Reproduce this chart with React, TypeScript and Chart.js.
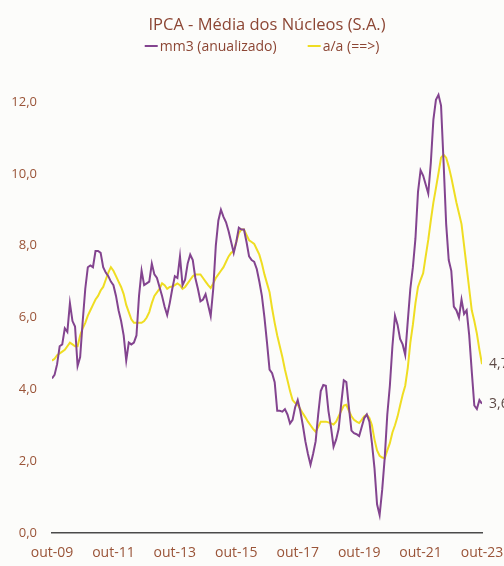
import React, { useEffect, useRef } from 'react';
import { Chart, registerables } from 'chart.js';

Chart.register(...registerables);

const TITLE = 'IPCA - Média dos Núcleos (S.A.)';
const SERIES_NAMES = ['mm3 (anualizado)', 'a/a (==>)'];
const SERIES_COLORS = ['#83448f', '#efdd22'];
const TICK_LABELS = ['out-09', 'out-11', 'out-13', 'out-15', 'out-17', 'out-19', 'out-21', 'out-23'];
const MONTHS_PER_TICK = 24;

// mm3 anualizado, monthly from out-09 to out-23
const MM3 = [
  4.3, 4.4, 4.7, 5.2, 5.25, 5.7, 5.6, 6.4, 5.9, 5.75,
  4.65, 4.9, 5.9, 6.8, 7.4, 7.45, 7.4, 7.85, 7.85, 7.8,
  7.4, 7.25, 7.15, 7.0, 6.9, 6.6, 6.2, 5.9, 5.5, 4.8,
  5.3, 5.25, 5.3, 5.5, 6.6, 7.3, 6.9, 6.95, 7.0, 7.5,
  7.2, 7.1, 6.85, 6.6, 6.3, 6.07, 6.4, 6.8, 7.15, 7.1,
  7.7, 6.9, 7.05, 7.5, 7.75, 7.6, 7.1, 6.8, 6.45, 6.5,
  6.65, 6.35, 6.04, 6.8, 8.0, 8.7, 9.0, 8.8, 8.65, 8.4,
  8.1, 7.8, 8.1, 8.5, 8.45, 8.45, 8.1, 7.7, 7.6, 7.55,
  7.35, 7.0, 6.6, 6.0, 5.3, 4.55, 4.45, 4.2, 3.4, 3.4,
  3.38, 3.45, 3.3, 3.05, 3.15, 3.5, 3.7, 3.4, 3.0, 2.55,
  2.2, 1.9, 2.2, 2.55, 3.3, 3.95, 4.12, 4.1, 3.4, 2.95,
  2.4, 2.6, 2.9, 3.6, 4.25, 4.2, 3.5, 2.85, 2.78, 2.75,
  2.7, 2.95, 3.2, 3.3, 3.1, 2.5, 1.8, 0.8, 0.5, 1.2,
  2.1, 3.3, 4.1, 5.2, 6.05, 5.8, 5.4, 5.25, 4.96, 5.9,
  6.8, 7.4, 8.2, 9.5, 10.1, 9.95, 9.7, 9.45, 10.3, 11.5,
  12.06, 12.2, 11.9, 10.3, 8.6, 7.6, 7.3, 6.3, 6.2, 6.0,
  6.5, 6.1, 6.2, 5.5, 4.5, 3.55, 3.45, 3.7, 3.6,
];

// a/a, monthly from out-09 to out-23
const AA = [
  4.8, 4.85, 4.95, 5.0, 5.05, 5.1, 5.2, 5.3, 5.25, 5.2,
  5.2, 5.5, 5.7, 5.85, 6.05, 6.2, 6.35, 6.5, 6.6, 6.75,
  6.85, 7.05, 7.25, 7.4, 7.3, 7.15, 7.0, 6.85, 6.65, 6.35,
  6.15, 5.95, 5.85, 5.85, 5.85, 5.85, 5.9, 6.0, 6.15, 6.4,
  6.6, 6.7, 6.8, 6.95, 6.9, 6.8, 6.85, 6.86, 6.9, 6.95,
  6.9, 6.8, 6.85, 6.95, 7.05, 7.15, 7.2, 7.2, 7.2, 7.1,
  7.0, 6.9, 6.82, 6.95, 7.1, 7.2, 7.3, 7.4, 7.55, 7.7,
  7.8, 7.85, 8.1, 8.35, 8.45, 8.45, 8.3, 8.15, 8.1, 8.05,
  7.9, 7.75, 7.5, 7.2, 6.95, 6.7, 6.25, 5.85, 5.5, 5.2,
  4.9, 4.55, 4.25, 3.95, 3.7, 3.62, 3.57, 3.45, 3.33, 3.22,
  3.1, 3.0, 2.9, 2.82, 2.95, 3.1, 3.1, 3.1, 3.08, 3.05,
  3.02, 3.1, 3.25, 3.4, 3.55, 3.57, 3.4, 3.25, 3.15, 3.1,
  3.06, 3.15, 3.25, 3.29, 3.2, 3.0, 2.6, 2.3, 2.15, 2.1,
  2.08, 2.3, 2.5, 2.8, 3.0, 3.24, 3.55, 3.85, 4.1, 4.6,
  5.3, 5.8, 6.4, 6.85, 7.05, 7.23, 7.7, 8.16, 8.7, 9.2,
  9.6, 10.02, 10.45, 10.53, 10.45, 10.2, 9.9, 9.55, 9.2, 8.9,
  8.6, 8.0, 7.4, 6.8, 6.2, 5.9, 5.55, 5.1, 4.7,
];

const Y_MIN = 0;
const Y_MAX = 12.5;
const Y_STEP = 2;

const FONT = '"Open Sans", "Noto Sans", sans-serif';
const TEXT_COLOR = '#8c4634';
const TICK_COLOR = '#9a5438';

const fmt = (v: number) => v.toFixed(1).replace('.', ',');

const extrasPlugin = {
  id: 'extras',
  beforeDraw(chart: any) {
    const ctx = chart.ctx;
    ctx.save();
    ctx.fillStyle = '#fcfcfa';
    ctx.fillRect(0, 0, chart.width, chart.height);
    ctx.restore();
  },
  afterDraw(chart: any) {
    const ctx = chart.ctx;
    ctx.save();
    // legend
    ctx.font = `14px ${FONT}`;
    ctx.textBaseline = 'middle';
    ctx.textAlign = 'left';
    const items = chart.data.datasets.map((ds: any) => ({ text: ds.label, color: ds.borderColor }));
    const lineW = 13;
    const gap = 2;
    const spacing = 31;
    const widths = items.map((it: any) => lineW + gap + ctx.measureText(it.text).width);
    const total = widths.reduce((a: number, b: number) => a + b, 0) + spacing * (items.length - 1);
    let x = 262 - total / 2;
    const y = 46;
    items.forEach((it: any, i: number) => {
      ctx.strokeStyle = it.color;
      ctx.lineWidth = 2;
      ctx.beginPath();
      ctx.moveTo(x, y);
      ctx.lineTo(x + lineW, y);
      ctx.stroke();
      ctx.fillStyle = TEXT_COLOR;
      ctx.fillText(it.text, x + lineW + gap, y + 1);
      x += widths[i] + spacing;
    });
    // end-of-series value labels
    ctx.font = `14px ${FONT}`;
    ctx.fillStyle = '#5e4a46';
    chart.data.datasets.forEach((ds: any, i: number) => {
      const meta = chart.getDatasetMeta(i);
      const pt = meta.data[meta.data.length - 1];
      const last = ds.data[ds.data.length - 1];
      ctx.fillText(fmt(last.y), pt.x + 7, pt.y);
    });
    ctx.restore();
  },
};

export default function App() {
  const canvasRef = useRef<HTMLCanvasElement | null>(null);

  useEffect(() => {
    document.body.style.margin = '0';
    const canvas = canvasRef.current;
    if (!canvas) return;
    const series = [MM3, AA];
    const chart = new Chart(canvas, {
      type: 'line',
      data: {
        datasets: series.map((vals, i) => ({
          label: SERIES_NAMES[i],
          data: vals.map((v, m) => ({ x: m, y: v })),
          borderColor: SERIES_COLORS[i],
          backgroundColor: SERIES_COLORS[i],
          borderWidth: 2,
          pointRadius: 0,
          tension: 0,
          fill: false,
          order: i === 0 ? 0 : 1,
        })),
      },
      options: {
        responsive: false,
        animation: false,
        events: [],
        layout: { padding: { left: 0, right: 22, top: 0, bottom: 0 } },
        plugins: {
          legend: { display: false },
          tooltip: { enabled: false },
          title: {
            display: true,
            text: TITLE,
            fullSize: false,
            color: TEXT_COLOR,
            font: { family: FONT, size: 16.5, weight: 'normal', lineHeight: 1.2 },
            padding: { top: 15, bottom: 49.2 },
          },
        },
        scales: {
          x: {
            type: 'linear',
            min: 0,
            max: MM3.length - 1,
            grid: { display: false, drawTicks: false },
            border: { display: true, color: '#4a4a4a', width: 1.5 },
            ticks: {
              stepSize: MONTHS_PER_TICK,
              autoSkip: false,
              maxRotation: 0,
              padding: 12,
              color: TICK_COLOR,
              font: { family: FONT, size: 14 },
              callback: (v: any) => TICK_LABELS[Math.round(Number(v) / MONTHS_PER_TICK)] ?? '',
            },
            afterFit: (scale: any) => {
              scale.height = 33;
              scale.paddingLeft = 0;
              scale.paddingRight = 0;
            },
          },
          y: {
            type: 'linear',
            min: Y_MIN,
            max: Y_MAX,
            grid: { display: false, drawTicks: false },
            border: { display: false },
            ticks: {
              stepSize: Y_STEP,
              includeBounds: false,
              padding: 15,
              color: TICK_COLOR,
              font: { family: FONT, size: 13 },
              callback: (v: any) => fmt(Number(v)),
            },
            afterFit: (scale: any) => {
              scale.width = 52;
              scale.paddingTop = 0;
              scale.paddingBottom = 0;
            },
          },
        },
      },
      plugins: [extrasPlugin],
    } as any);
    return () => chart.destroy();
  }, []);

  return (
    <div style={{ width: 504, height: 566 }}>
      <canvas ref={canvasRef} width={504} height={566} style={{ display: 'block' }} />
    </div>
  );
}
